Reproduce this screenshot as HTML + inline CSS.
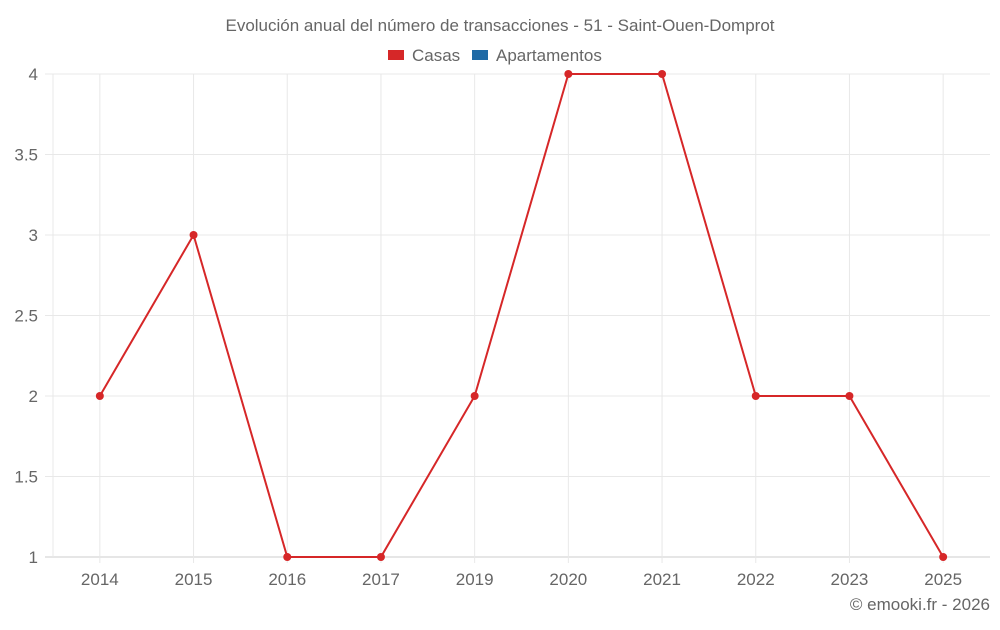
<!DOCTYPE html>
<html><head><meta charset="utf-8"><style>
body{margin:0;background:#fff;font-family:"Liberation Sans",sans-serif;}
svg text{font-family:"Liberation Sans",sans-serif;fill:#666;}
</style></head><body>
<svg width="1000" height="625" xmlns="http://www.w3.org/2000/svg">
<text x="500" y="31" text-anchor="middle" font-size="17">Evolución anual del número de transacciones - 51 - Saint-Ouen-Domprot</text>
<g>
<g><rect x="388" y="50" width="16" height="10" fill="#d62728"/><text x="412" y="61" font-size="17">Casas</text></g>
<g><rect x="472" y="50" width="16" height="10" fill="#1f6aa5"/><text x="496" y="61" font-size="17">Apartamentos</text></g>
</g>
<g id="grid"></g>
<g id="axes"></g>
<g id="series"></g>
<text x="990" y="610" text-anchor="end" font-size="17">© emooki.fr - 2026</text>
</svg>
<script>
const categories=["2014","2015","2016","2017","2019","2020","2021","2022","2023","2025"];
const casas=[2,3,1,1,2,4,4,2,2,1];
const yTicks=[1,1.5,2,2.5,3,3.5,4];
const yTickLabels=["1","1.5","2","2.5","3","3.5","4"];
const L=53,R=990,T=74,B=557,yMin=1,yMax=4;
const NS="http://www.w3.org/2000/svg";
const bw=(R-L)/categories.length;
const xs=i=>L+bw*(i+0.5);
const ys=v=>B-(v-yMin)/(yMax-yMin)*(B-T);
function mk(t,a,p){const e=document.createElementNS(NS,t);for(const k in a)e.setAttribute(k,a[k]);p.appendChild(e);return e;}
const g=document.getElementById('grid'),ax=document.getElementById('axes'),s=document.getElementById('series');
yTicks.forEach((v,i)=>{
 const l=mk('line',{x1:45,x2:R,y1:ys(v),y2:ys(v),stroke:i==0?'#ccc':'#e8e8e8','stroke-width':1},g);
 
 
 const t=mk('text',{x:38,y:ys(v)+6,'text-anchor':'end','font-size':17},ax);
 t.textContent=yTickLabels[i];
 
 
});
const l0=mk('line',{x1:L,x2:L,y1:T,y2:B,stroke:'#e8e8e8'},g);


categories.forEach((c,i)=>{
 const l=mk('line',{x1:xs(i),x2:xs(i),y1:T,y2:B+6,stroke:'#e8e8e8'},g);
 
 
 const t=mk('text',{x:xs(i),y:585,'text-anchor':'middle','font-size':17},ax);
 t.textContent=c;
 
 
});
const p=mk('polyline',{points:casas.map((v,i)=>xs(i)+','+ys(v)).join(' '),fill:'none',stroke:'#d62728','stroke-width':2},s);


casas.forEach((v,i)=>{
 const c=mk('circle',{cx:xs(i),cy:ys(v),r:4,fill:'#d62728'},s);
 
 
});
</script>
</body></html>
